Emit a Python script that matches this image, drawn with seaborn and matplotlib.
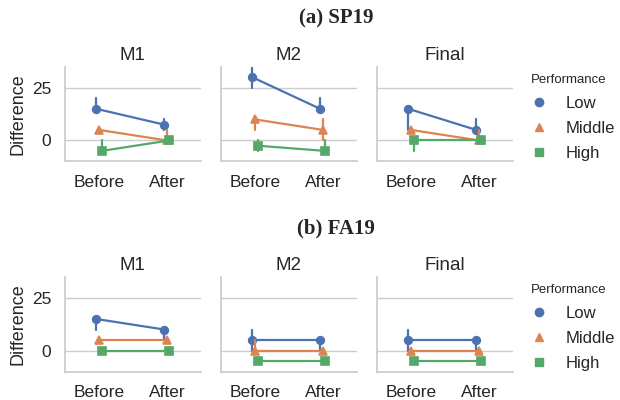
import pandas as pd
import matplotlib
matplotlib.use("Agg")
import matplotlib.pyplot as plt
import seaborn as sns
from matplotlib.lines import Line2D

exams = ["M1", "M2", "Final"]
times = ["Before", "After"]
levels = ["Low", "Middle", "High"]
markers = ["o", "^", "s"]

# values indexed [exam][level][time]
sp19_mid = [[[15, 7.5], [5, 0], [-5, 0]],
            [[30, 15], [10, 5], [-2.5, -5]],
            [[15, 5], [5, 0], [0, 0]]]
sp19_lo = [[[15, 5], [5, 0], [-5, 0]],
           [[25, 15], [5, 0], [-5, -5]],
           [[5, 5], [5, 0], [-5, 0]]]
sp19_hi = [[[20, 10], [5, 5], [0, 0]],
           [[35, 20], [10, 10], [0, 0]],
           [[15, 10], [5, 5], [0, 0]]]

fa19_mid = [[[15, 10], [5, 5], [0, 0]],
            [[5, 5], [0, 0], [-5, -5]],
            [[5, 5], [0, 0], [-5, -5]]]
fa19_lo = [[[10, 5], [5, 5], [0, 0]],
           [[0, 0], [0, 0], [-5, -5]],
           [[0, 0], [0, 0], [-5, -5]]]
fa19_hi = [[[15, 10], [5, 5], [0, 0]],
           [[10, 5], [5, 0], [-5, -5]],
           [[10, 5], [0, 0], [-5, -5]]]

semesters = [("(a) SP19", sp19_lo, sp19_mid, sp19_hi),
             ("(b) FA19", fa19_lo, fa19_mid, fa19_hi)]


def make_frame(lo, mid, hi):
    rows = []
    for e, exam in enumerate(exams):
        for l, lev in enumerate(levels):
            for t, tm in enumerate(times):
                for v in (lo[e][l][t], mid[e][l][t], hi[e][l][t]):
                    rows.append({"Exam": exam, "Performance": lev, "Time": tm, "Difference": v})
    return pd.DataFrame(rows)


sns.set_theme(style="whitegrid", palette="deep")
plt.rcParams["font.family"] = ["Liberation Sans", "DejaVu Sans"]
colors = sns.color_palette("deep", 3)

fig, axes = plt.subplots(2, 3, figsize=(6.2, 4.0), dpi=100)
plt.subplots_adjust(left=0.105, right=0.827, top=0.833, bottom=0.071, wspace=0.15, hspace=1.22)

for r, (title, lo, mid, hi) in enumerate(semesters):
    df = make_frame(lo, mid, hi)
    for c, exam in enumerate(exams):
        ax = axes[r, c]
        sns.pointplot(data=df[df["Exam"] == exam], x="Time", y="Difference",
                      hue="Performance", order=times, hue_order=levels,
                      markers=markers, linestyles="-", dodge=True,
                      estimator="median", errorbar=("pi", 100),
                      palette=colors, legend=False, ax=ax,
                      markersize=5.5, linewidth=1.6, err_kws={"linewidth": 1.6})
        ax.set_ylim(-10, 35)
        ax.set_yticks([0, 25])
        ax.set_title(exam, fontsize=13.5, pad=5)
        ax.set_xlabel("")
        ax.tick_params(axis="both", labelsize=12.5, pad=4)
        if c == 0:
            ax.set_ylabel("Difference", fontsize=13, labelpad=4)
        else:
            ax.set_ylabel("")
            ax.set_yticklabels([])
        sns.despine(ax=ax)

    top = axes[r, 0].get_position().y1
    fig.text(0.542, top + 0.12, title, ha="center", va="center",
             fontsize=15, fontweight="bold", family="Liberation Serif")

    handles = [Line2D([], [], linestyle="none", marker=m, color=col, markersize=6)
               for m, col in zip(markers, colors)]
    fig.legend(handles, levels, title="Performance", loc="upper left",
               bbox_to_anchor=(0.832, top + 0.02), frameon=False,
               fontsize=12, title_fontsize=9.5, alignment="left",
               handlelength=1, handletextpad=1.1, labelspacing=0.6)

fig.savefig("out.png", dpi=100)
